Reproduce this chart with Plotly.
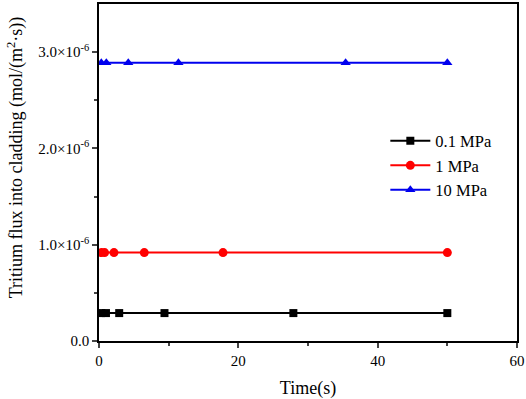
import plotly.graph_objects as go

t_01 = [0.33, 1.0, 2.9, 9.4, 27.9, 50]
f_01 = [0.29e-6] * 6
t_1 = [0.33, 0.8, 2.15, 6.5, 17.8, 50]
f_1 = [0.918e-6] * 6
t_10 = [0.33, 1.05, 4.2, 11.4, 35.4, 50]
f_10 = [2.89e-6] * 6

ytick_vals = [0, 1e-6, 2e-6, 3e-6]
ytick_text = ["0.0", "1.0×10<sup>-6</sup>", "2.0×10<sup>-6</sup>", "3.0×10<sup>-6</sup>"]
y_title = "Tritium flux into cladding (mol/(m<sup>2</sup>·s))"

font_family = "Liberation Serif"

fig = go.Figure()
fig.add_trace(go.Scatter(x=t_01, y=f_01, mode="lines+markers", name="0.1 MPa",
                         line=dict(color="black", width=2),
                         marker=dict(symbol="square", size=8, color="black")))
fig.add_trace(go.Scatter(x=t_1, y=f_1, mode="lines+markers", name="1 MPa",
                         line=dict(color="#ff0000", width=2),
                         marker=dict(symbol="circle", size=9, color="#ff0000")))
fig.add_trace(go.Scatter(x=t_10, y=f_10, mode="lines+markers", name="10 MPa",
                         line=dict(color="#0000ee", width=2),
                         marker=dict(symbol="triangle-up", size=9, color="#0000ee")))

fig.update_layout(
    width=526, height=399,
    margin=dict(l=99, r=9, t=4, b=58),
    paper_bgcolor="white", plot_bgcolor="white",
    font=dict(family=font_family, size=15, color="black"),
    showlegend=True,
    legend=dict(x=0.685, y=0.645, xanchor="left", yanchor="top",
                bgcolor="rgba(0,0,0,0)", font=dict(size=16.5, family=font_family),
                tracegroupgap=0, itemwidth=40),
    xaxis=dict(range=[0, 60], tickvals=[0, 20, 40, 60], ticks="outside", ticklen=5,
               tickwidth=1.5, showline=True, linecolor="black", linewidth=1.5,
               mirror=True, showgrid=False, zeroline=False, automargin=False,
               tickfont=dict(size=15),
               minor=dict(tickvals=[10, 30, 50], ticks="outside", ticklen=3, tickwidth=1.5),
               title=dict(text="Time(s)", font=dict(size=18), standoff=14)),
    yaxis=dict(range=[0, 3.5e-6], tickvals=ytick_vals, ticktext=ytick_text,
               ticks="outside", ticklen=5, tickwidth=1.5, showline=True,
               linecolor="black", linewidth=1.5, mirror=True, showgrid=False,
               zeroline=False, automargin=False, tickfont=dict(size=15),
               minor=dict(tickvals=[0.5e-6, 1.5e-6, 2.5e-6], ticks="outside", ticklen=3, tickwidth=1.5)),
)

fig.add_annotation(text=y_title, textangle=-90, xref="paper", yref="paper",
                   x=0, y=0.545, xanchor="center", yanchor="middle", xshift=-83,
                   showarrow=False, font=dict(size=18, family=font_family, color="black"))

fig.write_html("out.html", config={"displayModeBar": False},
               post_script="document.body.style.margin='0';")
